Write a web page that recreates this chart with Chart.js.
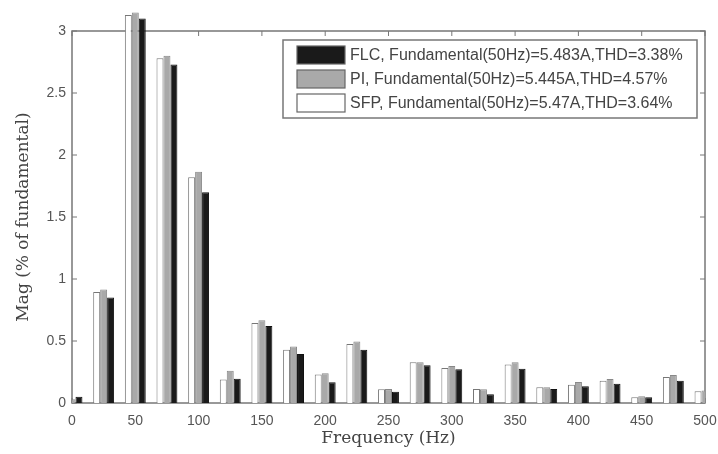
<!DOCTYPE html>
<html>
<head>
<meta charset="utf-8">
<script src="https://cdn.jsdelivr.net/npm/chart.js@4"></script>
<style>
  html, body { margin: 0; padding: 0; background: #fff; }
  #wrap { width: 718px; height: 454px; }
</style>
</head>
<body>
<div id="wrap"><canvas id="myChart" width="718" height="454"></canvas></div>
<script>
// harmonic frequencies (Hz)
const freqs = [0, 25, 50, 75, 100, 125, 150, 175, 200, 225, 250, 275, 300, 325, 350, 375, 400, 425, 450, 475, 500];
// magnitudes (% of fundamental)
const sfpMag = [0.02, 0.895, 3.13, 2.78, 1.82, 0.19, 0.645, 0.43, 0.23, 0.476, 0.11, 0.328, 0.282, 0.113, 0.31, 0.127, 0.148, 0.18, 0.046, 0.21, 0.094];
const piMag  = [0.03, 0.915, 3.15, 2.80, 1.865, 0.26, 0.667, 0.455, 0.24, 0.495, 0.112, 0.328, 0.298, 0.11, 0.328, 0.127, 0.17, 0.194, 0.054, 0.226, 0.10];
const flcMag = [0.05, 0.85, 3.10, 2.73, 1.70, 0.195, 0.62, 0.395, 0.167, 0.43, 0.09, 0.304, 0.272, 0.07, 0.277, 0.113, 0.135, 0.156, 0.046, 0.18, 0.07];
const legendLabels = [
  "FLC, Fundamental(50Hz)=5.483A,THD=3.38%",
  "PI, Fundamental(50Hz)=5.445A,THD=4.57%",
  "SFP, Fundamental(50Hz)=5.47A,THD=3.64%"
];
const xTicks = [0, 50, 100, 150, 200, 250, 300, 350, 400, 450, 500];
const yTicks = [0, 0.5, 1, 1.5, 2, 2.5, 3];

const toPoints = arr => freqs.map((f, i) => ({ x: f, y: arr[i] }));
const clipSides = { left: 0, top: false, right: 0, bottom: 0 };

// box round the plot with inward ticks (under the bars), legend on top
const matlabFrame = {
  id: "matlabFrame",
  beforeDatasetsDraw(chart) {
    const ctx = chart.ctx;
    const a = chart.chartArea;
    const xs = chart.scales.x, ys = chart.scales.y;
    ctx.save();
    ctx.strokeStyle = "#777";
    ctx.lineWidth = 1.5;
    ctx.strokeRect(a.left, a.top, a.right - a.left, a.bottom - a.top);
    ctx.lineWidth = 1;
    const tl = 5;
    xTicks.forEach(v => {
      const px = xs.getPixelForValue(v);
      ctx.beginPath();
      ctx.moveTo(px, a.bottom); ctx.lineTo(px, a.bottom - tl);
      ctx.moveTo(px, a.top); ctx.lineTo(px, a.top + tl);
      ctx.stroke();
    });
    yTicks.forEach(v => {
      const py = ys.getPixelForValue(v);
      ctx.beginPath();
      ctx.moveTo(a.left, py); ctx.lineTo(a.left + tl, py);
      ctx.moveTo(a.right, py); ctx.lineTo(a.right - tl, py);
      ctx.stroke();
    });
    ctx.restore();
  },
  afterDraw(chart) {
    const ctx = chart.ctx;
    const bx = 283, by = 40, bw = 414, bh = 78;
    ctx.save();
    ctx.fillStyle = "#fff";
    ctx.fillRect(bx, by, bw, bh);
    ctx.strokeStyle = "#777";
    ctx.lineWidth = 1.5;
    ctx.strokeRect(bx, by, bw, bh);
    const ds = chart.data.datasets.slice().reverse();
    ctx.font = "16px 'Liberation Sans', Arial, sans-serif";
    ctx.textBaseline = "middle";
    ds.forEach((d, i) => {
      const ry = by + 6 + i * 24;
      ctx.fillStyle = d.backgroundColor;
      ctx.fillRect(bx + 14, ry, 48, 18);
      ctx.strokeStyle = "#666";
      ctx.lineWidth = 1.2;
      ctx.strokeRect(bx + 14, ry, 48, 18);
      ctx.fillStyle = "#444";
      ctx.fillText(d.label, bx + 67, ry + 9.5);
    });
    ctx.restore();
  }
};

new Chart(document.getElementById("myChart"), {
  type: "bar",
  data: {
    datasets: [
      {
        label: legendLabels[2],
        data: toPoints(sfpMag),
        backgroundColor: "#ffffff",
        borderColor: "#777",
        borderWidth: 1,
        clip: clipSides
      },
      {
        label: legendLabels[1],
        data: toPoints(piMag),
        backgroundColor: "#a9a9a9",
        borderColor: "#888",
        borderWidth: 1,
        clip: clipSides
      },
      {
        label: legendLabels[0],
        data: toPoints(flcMag),
        backgroundColor: "#1a1a1a",
        borderColor: "#111",
        borderWidth: 1,
        clip: clipSides
      }
    ]
  },
  options: {
    responsive: false,
    animation: false,
    devicePixelRatio: 1,
    layout: { padding: { left: 0, top: 31, right: 0, bottom: 0 } },
    datasets: { bar: { barPercentage: 1.0, categoryPercentage: 0.66 } },
    plugins: { legend: { display: false }, tooltip: { enabled: false } },
    scales: {
      x: {
        type: "linear",
        min: 0, max: 500,
        offset: false,
        grid: { display: false, drawTicks: false },
        border: { display: false },
        afterBuildTicks: s => { s.ticks = xTicks.map(v => ({ value: v })); },
        afterFit: s => { s.height = 51; s.paddingRight = 13; s.paddingLeft = 0; },
        ticks: {
          padding: 10,
          maxRotation: 0,
          color: "#555",
          font: { family: "'Liberation Sans', Arial, sans-serif", size: 14 }
        },
        title: {
          display: true,
          text: "Frequency (Hz)",
          color: "#444",
          padding: { top: 0, bottom: 5 },
          font: { family: "'DejaVu Serif', serif", size: 17 }
        }
      },
      y: {
        min: 0, max: 3,
        grid: { display: false, drawTicks: false },
        border: { display: false },
        afterBuildTicks: s => { s.ticks = yTicks.map(v => ({ value: v })); },
        afterFit: s => { s.width = 72; },
        ticks: {
          padding: 6,
          color: "#555",
          font: { family: "'Liberation Sans', Arial, sans-serif", size: 14 },
          callback: v => String(v)
        },
        title: {
          display: true,
          text: "Mag (% of fundamental)",
          color: "#444",
          padding: { top: 13, bottom: 0 },
          font: { family: "'DejaVu Serif', serif", size: 17 }
        }
      }
    }
  },
  plugins: [matlabFrame]
});
</script>
</body>
</html>
